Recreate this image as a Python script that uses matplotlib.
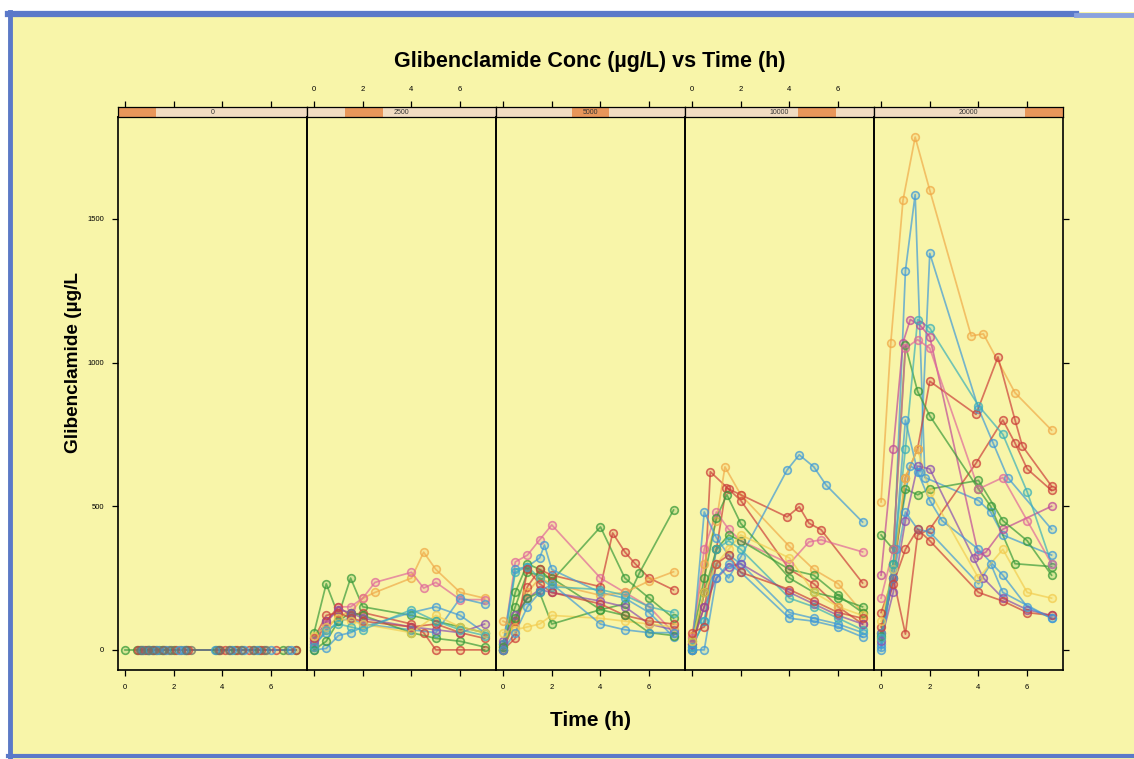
import matplotlib
matplotlib.use("Agg")
import matplotlib.pyplot as plt
from matplotlib.lines import Line2D
from matplotlib.patches import Rectangle
from matplotlib.colors import to_rgba

# ---------------- data ----------------
doses = ["0", "2500", "5000", "10000", "20000"]
x_ticks = [0, 2, 4, 6]
y_ticks = [0, 500, 1000, 1500]

title = "Glibenclamide Conc (\u00b5g/L) vs Time (h)"
ylabel = "Glibenclamide (\u00b5g/L"
xlabel = "Time (h)"

C = {"blue": "#3f9ad8", "red": "#cc3f3a", "green": "#3a9a3a", "mag": "#c04a98",
     "orange": "#f0aa48", "purple": "#8a4fb0", "pink": "#e0689a", "teal": "#3bb0b8",
     "yellow": "#f2cc50", "grey": "#6f7468"}

# dose 0
p0_times = [
    [0, 0.5, 0.75, 1, 1.25, 1.5, 2, 2.5, 3.75, 4.5, 5.5, 6.5, 7],
    [0.6, 0.9, 1.1, 1.4, 1.8, 2.3, 2.7, 3.8, 4.3, 4.8, 5.3, 5.7, 6.7],
    [0.55, 0.8, 1.2, 1.6, 2.1, 2.6, 3.9, 4.1, 4.6, 5.1, 5.6, 6.2, 7],
    [0.7, 1.0, 1.3, 1.7, 2.2, 2.4, 3.7, 4.4, 4.9, 5.4, 6.0, 6.8],
    [0.65, 0.95, 1.15, 1.55, 1.9, 2.5, 3.85, 4.25, 4.75, 5.25, 5.8],
]
p0_conc = [[0] * len(t) for t in p0_times]
p0_colors = ["green", "grey", "red", "blue", "grey"]

# dose 2500
p1_times = [
    [0, 0.5, 1, 1.5, 2, 4, 5, 6, 7],
    [0, 0.5, 1, 1.5, 2, 2.5, 4, 4.5, 5, 6, 7],
    [0, 0.5, 1, 1.5, 2, 2.5, 4, 4.5, 5, 6, 7],
    [0, 0.5, 1, 1.5, 2, 4, 4.5, 5, 6, 7],
    [0, 0.5, 1, 1.5, 2, 4, 5, 6, 7],
    [0, 0.5, 1, 1.5, 2, 4, 5, 6, 7],
    [0, 0.5, 1, 1.5, 2, 4, 5, 6, 7],
    [0, 0.5, 1, 1.5, 2, 4, 5, 6, 7],
    [0, 0.5, 1, 1.5, 2, 4, 5, 6, 7],
    [0, 0.5, 1, 1.5, 2, 4, 5, 6, 7],
    [0, 0.5, 1, 1.5, 2, 4, 5, 6, 7],
]
p1_conc = [
    [60, 230, 120, 250, 150, 120, 100, 80, 60],
    [20, 70, 120, 130, 180, 200, 250, 340, 280, 200, 180],
    [40, 90, 150, 150, 180, 235, 270, 215, 235, 175, 175],
    [10, 100, 150, 120, 130, 90, 60, 0, 0, 0],
    [0, 5, 50, 60, 80, 130, 150, 120, 60],
    [20, 60, 100, 110, 90, 70, 60, 180, 160],
    [0, 30, 100, 130, 120, 60, 40, 30, 10],
    [30, 100, 140, 130, 110, 80, 70, 60, 90],
    [40, 120, 130, 110, 100, 80, 90, 60, 40],
    [50, 80, 110, 100, 90, 60, 120, 80, 60],
    [10, 70, 90, 80, 70, 140, 100, 70, 50],
]
p1_colors = ["green", "orange", "pink", "red", "blue", "blue", "green", "purple",
             "red", "yellow", "teal"]

# dose 5000
p2_times = [
    [0, 0.5, 1, 1.5, 2, 4, 5, 5.6, 7],
    [0, 0.5, 1, 1.5, 2, 4, 5, 6, 7],
    [0, 0.5, 1, 1.5, 2, 4, 5, 6, 7],
    [0, 0.5, 1, 1.5, 2, 4, 4.5, 5, 5.4, 6, 7],
    [0, 0.5, 1, 1.5, 1.7, 2, 4, 5, 6, 7],
    [0, 0.5, 1, 1.5, 2, 4, 5, 6, 7],
    [0, 0.5, 1, 1.5, 2, 4, 5, 6, 7],
    [0, 0.5, 1, 1.5, 2, 4, 5, 6, 7],
    [0, 0.5, 1, 1.5, 2, 4, 5, 6, 7],
    [0, 0.5, 1, 1.5, 2, 4, 5, 6, 7],
    [0, 0.5, 1, 1.5, 2, 4, 5, 6, 7],
    [0, 0.5, 1, 1.5, 2, 4, 5, 6, 7],
]
p2_conc = [
    [20, 150, 270, 260, 250, 140, 160, 268, 487],
    [0, 200, 300, 280, 240, 428, 250, 180, 110],
    [10, 306, 330, 383, 435, 250, 200, 150, 60],
    [0, 100, 220, 280, 260, 220, 407, 341, 302, 250, 209],
    [20, 280, 290, 320, 365, 280, 200, 180, 130, 45],
    [100, 80, 200, 250, 230, 190, 200, 240, 272],
    [30, 120, 180, 210, 200, 170, 150, 90, 70],
    [0, 270, 290, 250, 220, 210, 190, 150, 130],
    [60, 70, 80, 90, 120, 110, 100, 90, 80],
    [0, 40, 280, 230, 200, 160, 120, 100, 90],
    [10, 110, 180, 200, 90, 140, 120, 60, 50],
    [0, 60, 150, 200, 230, 90, 70, 60, 60],
]
p2_colors = ["green", "green", "pink", "red", "blue", "orange", "purple", "teal",
             "yellow", "red", "green", "blue"]

# dose 10000
p3_times = [
    [0, 0.5, 0.75, 1.5, 2, 4, 5, 6, 7],
    [0, 0.5, 1, 1.35, 2, 4, 5, 6, 7],
    [0, 0.5, 1, 1.4, 2, 3.9, 4.4, 4.8, 5.3, 7],
    [0, 0.5, 1, 1.5, 2, 3.9, 4.4, 5, 5.5, 7],
    [0, 0.5, 1, 1.5, 2, 4, 4.8, 5.3, 7],
    [0, 0.5, 1, 1.43, 2, 4, 5, 6, 7],
    [0, 0.5, 1, 1.5, 2, 4, 5, 6, 7],
    [0, 0.5, 1, 1.5, 2, 4, 5, 6, 7],
    [0, 0.5, 1, 1.5, 2, 4, 5, 6, 7],
    [0, 0.5, 1, 1.5, 2, 4, 5, 6, 7],
    [0, 0.5, 1, 1.5, 2, 4, 5, 6, 7],
    [0, 0.5, 1, 1.5, 2, 4, 5, 6, 7],
    [0, 0.5, 1, 1.5, 2, 4, 5, 6, 7],
]
p3_conc = [
    [0, 200, 620, 560, 520, 280, 230, 150, 90],
    [50, 300, 450, 637, 540, 360, 280, 230, 130],
    [20, 150, 350, 564, 540, 463, 498, 441, 418, 233],
    [10, 100, 300, 250, 324, 626, 679, 637, 574, 445],
    [40, 350, 480, 420, 380, 300, 376, 383, 341],
    [30, 250, 460, 540, 440, 250, 200, 180, 150],
    [0, 200, 350, 400, 380, 280, 260, 190, 130],
    [0, 480, 390, 330, 300, 130, 110, 90, 60],
    [20, 150, 250, 290, 300, 200, 160, 120, 90],
    [10, 100, 350, 380, 350, 180, 150, 110, 70],
    [0, 0, 250, 300, 270, 110, 100, 80, 45],
    [30, 200, 300, 350, 400, 320, 200, 150, 120],
    [60, 80, 300, 330, 270, 210, 170, 130, 110],
]
p3_colors = ["red", "orange", "red", "blue", "pink", "green", "green", "blue",
             "purple", "teal", "blue", "yellow", "red"]

# dose 20000
p4_times = [
    [0, 0.4, 0.9, 1.4, 2, 3.7, 4.2, 5.5, 7],
    [0, 0.5, 1, 1.4, 1.8, 4, 4.5, 5, 7],
    [0, 0.6, 1.2, 1.6, 2, 4, 4.6, 5.2, 7],
    [0, 0.5, 0.9, 1.2, 1.6, 2, 4, 4.3, 5, 7],
    [0, 0.5, 1, 1.5, 2, 3.9, 4.8, 5.5, 5.8, 7],
    [0, 0.5, 1, 1.5, 2, 3.9, 5, 5.5, 6, 7],
    [0, 0.5, 1, 1.5, 2, 4, 4.5, 5.5, 7],
    [0, 0.5, 1, 1.5, 2, 4, 5, 6, 7],
    [0, 0.5, 1, 1.5, 2, 4, 4.5, 5, 7],
    [0, 0.5, 1, 1.5, 2, 3.8, 4.2, 5, 6, 7],
    [0, 0.5, 1, 1.5, 2, 4, 5, 6, 7],
    [0, 0.5, 1, 1.5, 2, 2.5, 4, 5, 6, 7],
    [0, 0.5, 1, 1.5, 2, 4, 5, 6, 7],
    [0, 0.5, 1, 1.5, 2, 4, 5, 6, 7],
    [0, 0.5, 1, 1.5, 2, 4, 5, 6, 7],
]
p4_conc = [
    [515, 1070, 1565, 1785, 1600, 1093, 1100, 895, 765],
    [10, 280, 1320, 1585, 600, 520, 480, 400, 330],
    [20, 350, 640, 620, 1380, 840, 720, 600, 420],
    [260, 700, 1070, 1150, 1130, 1090, 330, 340, 420, 500],
    [60, 250, 600, 700, 935, 820, 1020, 800, 710, 570],
    [130, 250, 55, 400, 420, 650, 800, 720, 630, 555],
    [400, 350, 1060, 900, 815, 560, 500, 300, 290],
    [50, 300, 560, 540, 560, 590, 450, 380, 260],
    [60, 250, 480, 420, 410, 230, 300, 200, 110],
    [30, 200, 450, 640, 630, 320, 250, 180, 140, 120],
    [80, 230, 350, 420, 380, 200, 170, 130, 120],
    [0, 280, 800, 620, 520, 450, 350, 260, 150, 110],
    [100, 280, 600, 700, 550, 250, 350, 200, 180],
    [40, 300, 700, 1150, 1120, 850, 750, 550, 300],
    [180, 350, 1050, 1080, 1050, 560, 600, 450, 300],
]
p4_colors = ["orange", "blue", "blue", "mag", "red", "red", "green", "green",
             "blue", "purple", "red", "blue", "yellow", "teal", "pink"]

panels = [
    (p0_times, p0_conc, p0_colors),
    (p1_times, p1_conc, p1_colors),
    (p2_times, p2_conc, p2_colors),
    (p3_times, p3_conc, p3_colors),
    (p4_times, p4_conc, p4_colors),
]

# ---------------- layout ----------------
W, H = 1134, 759
BG = "#f8f5a9"
STRIP_BG = "#f1dcc2"
STRIP_HI = "#e8965a"
FRAME = "#5b79c9"

plt.rcParams["font.family"] = ["Liberation Sans", "DejaVu Sans"]
fig = plt.figure(figsize=(W / 100, H / 100), dpi=100, facecolor=BG)


def fx(px):
    return px / W


def fy(py):
    return 1 - py / H


# white margins outside the frame
fig.add_artist(Rectangle((0, fy(12)), 1, 12 / H, transform=fig.transFigure,
                         facecolor="white", edgecolor="none", zorder=0))
fig.add_artist(Rectangle((0, 0), fx(8), 1, transform=fig.transFigure,
                         facecolor="white", edgecolor="none", zorder=0))
# frame lines
fig.add_artist(Line2D([fx(8), fx(1076)], [fy(14), fy(14)], transform=fig.transFigure,
                      color=FRAME, lw=4.5, zorder=1))
fig.add_artist(Line2D([fx(1076), fx(1134)], [fy(14.5), fy(14.5)], transform=fig.transFigure,
                      color="#8aa2de", lw=3.5, zorder=1))
fig.add_artist(Line2D([fx(10), fx(10)], [fy(12), fy(757)], transform=fig.transFigure,
                      color=FRAME, lw=3.5, zorder=1))
fig.add_artist(Line2D([fx(8), fx(1134)], [fy(756), fy(756)], transform=fig.transFigure,
                      color=FRAME, lw=3.0, zorder=1))

left_px, right_px = 118, 1063
top_px, bottom_px = 117, 670
strip_top_px = 107
pw = (right_px - left_px) / 5

xlim = (-0.29, 7.47)
ylim = (-70, 1855)
tick_kw = dict(labelsize=5.5, length=4, width=0.9, pad=6, colors="black")

for i, (times, concs, cols) in enumerate(panels):
    x0 = left_px + i * pw
    ax = fig.add_axes([fx(x0), fy(bottom_px), pw / W, (bottom_px - top_px) / H])
    ax.set_facecolor("none")
    for t, c, col in zip(times, concs, cols):
        color = C[col]
        ax.plot(t, c, "-", color=color, lw=1.25, alpha=0.7, zorder=2)
        ax.plot(t, c, "o", ms=5.5, mfc=to_rgba(color, 0.18), mec=to_rgba(color, 0.75),
                mew=1.2, linestyle="none", zorder=3)
    ax.set_xlim(*xlim)
    ax.set_ylim(*ylim)
    for sp in ax.spines.values():
        sp.set_linewidth(1.2)
        sp.set_color("black")
    ax.set_xticks(x_ticks)
    ax.tick_params(axis="x", direction="out", bottom=True, top=False,
                   labelbottom=(i % 2 == 0), **tick_kw)
    ax.set_yticks(y_ticks)
    ax.tick_params(axis="y", direction="out", left=(i == 0), right=(i == 4),
                   labelleft=(i == 0), labelright=False, **tick_kw)

    # strip
    sax = fig.add_axes([fx(x0), fy(top_px), pw / W, (top_px - strip_top_px) / H])
    sax.set_xlim(*xlim)
    sax.set_ylim(0, 1)
    sax.set_facecolor(STRIP_BG)
    span = xlim[1] - xlim[0]
    sax.add_patch(Rectangle((xlim[0] + i * span / 5, 0), span / 5, 1,
                            facecolor=STRIP_HI, edgecolor="none"))
    sax.text(0.5, 0.45, doses[i], transform=sax.transAxes, ha="center", va="center",
             fontsize=5, color="#333333")
    for sp in sax.spines.values():
        sp.set_linewidth(0.9)
    sax.set_yticks([])
    sax.set_xticks(x_ticks)
    sax.tick_params(axis="x", direction="out", bottom=False, top=True,
                    labelbottom=False, labeltop=(i % 2 == 1), **tick_kw)

fig.text(fx(590), fy(62), title, ha="center", va="center", fontsize=15.5,
         fontweight="bold")
fig.text(fx(73), fy(362), ylabel, ha="center", va="center", fontsize=13.7,
         fontweight="bold", rotation=90)
fig.text(fx(590), fy(720), xlabel, ha="center", va="center", fontsize=15,
         fontweight="bold")

fig.savefig("out.png", dpi=100, facecolor=BG)
